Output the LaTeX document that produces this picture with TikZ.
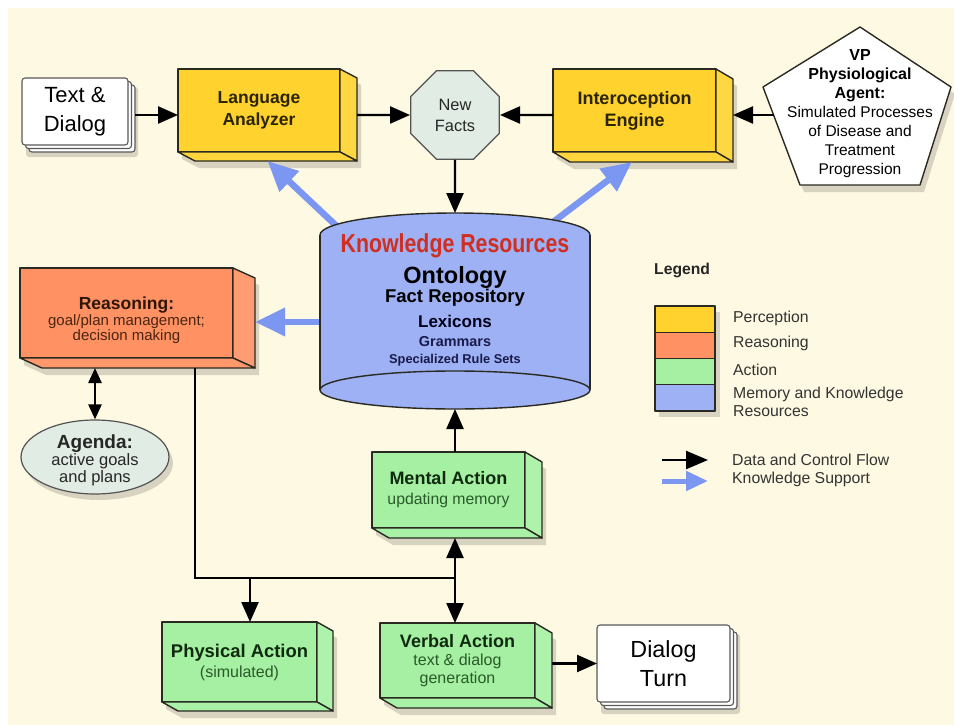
\documentclass[tikz,border=0pt]{standalone}
\usepackage{fontspec}
\usepackage{graphicx}
\setmainfont{Liberation Sans}
\usetikzlibrary{calc,arrows.meta,shapes.geometric}
\definecolor{bgcream}{HTML}{FEF9E2}
\definecolor{percY}{HTML}{FFD22E}
\definecolor{reasO}{HTML}{FF9162}
\definecolor{actG}{HTML}{A5F0A2}
\definecolor{memB}{HTML}{9DB1F4}
\definecolor{paleG}{HTML}{E1ECE4}
\definecolor{suppB}{HTML}{7C97F2}
\definecolor{krRed}{HTML}{CF2E20}
\definecolor{edgeC}{HTML}{2A2A22}
\definecolor{yTxt}{HTML}{2B2400}
\definecolor{oTxt}{HTML}{2E1608}
\definecolor{oSub}{HTML}{4A2510}
\definecolor{gTxt}{HTML}{0F2A0F}
\definecolor{gSub}{HTML}{2A5A2A}
\definecolor{navyTxt}{HTML}{1A1A4A}
\definecolor{lgTxt}{HTML}{333333}
\newcommand\fs[2]{\fontsize{#1}{#2}\selectfont}
\tikzset{
 outl/.style={draw=edgeC, line width=1.4pt, line join=round},
 tdface/.style={outl, rectangle, inner sep=0pt, outer sep=0pt},
 shad/.style={fill=black, opacity=0.15},
 stkface/.style={draw=gray!70!black, line width=1.1pt, fill=white, rounded corners=3pt, inner sep=0pt, outer sep=0pt},
 flow/.style={draw=black, line width=2.4pt, -{Triangle[length=20pt,width=17pt]}},
 flowtwo/.style={draw=black, line width=2.4pt, {Triangle[length=20pt,width=17pt]}-{Triangle[length=20pt,width=17pt]}},
 flowsm/.style={draw=black, line width=2.4pt, {Triangle[length=15pt,width=13pt]}-{Triangle[length=15pt,width=13pt]}},
 conn/.style={draw=black, line width=2.4pt},
 supp/.style={draw=suppB, line width=6.5pt, -{Triangle[length=30pt,width=27pt]}},
 lgflow/.style={draw=black, line width=2.4pt, -{Triangle[length=22pt,width=18pt]}},
 lgsupp/.style={draw=suppB, line width=5pt, -{Triangle[length=22pt,width=19pt]}},
 lbl/.style={align=center, inner sep=0pt},
 lgsw/.style={outl, rectangle, minimum width=60pt, minimum height=26.25pt, inner sep=0pt, outer sep=0pt},
 lglbl/.style={anchor=west, inner sep=0pt, text=lgTxt, font=\fs{15.8}{18}, align=left},
}
% 3D extruded box: name, x1, y1, x2, y2, dx, dy, colour
\newcommand\tdbox[8]{%
  \fill[shad] (#2+4,#3+7) -- (#4+4,#3+7) -- (#4+#6+4,#3+#7+7) -- (#4+#6+4,#5+#7+7) -- (#2+#6+4,#5+#7+7) -- (#2+4,#5+7) -- cycle;
  \node[tdface, fill=#8, minimum width={#4-#2}, minimum height={#5-#3}] (#1) at ({(#2+#4)/2},{(#3+#5)/2}) {};
  \draw[outl, fill=#8!90!white] (#1.north east) -- ++(#6,#7) -- ($(#1.south east)+(#6,#7)$) -- (#1.south east) -- cycle;
  \draw[outl, fill=#8!94!white] (#1.south west) -- ++(#6,#7) -- ($(#1.south east)+(#6,#7)$) -- (#1.south east) -- cycle;
  \coordinate (#1R) at ($(#1.east)+(#6,#7)$);
  \coordinate (#1B) at ($(#1.south)+({#6/2},#7)$);
}
% stacked white sheets: name, x1, y1, x2, y2
\newcommand\stackbox[5]{%
  \fill[shad, rounded corners=3pt] (#2+4,#3+9) rectangle (#4+10,#5+12);
  \node[stkface, minimum width={#4-#2}, minimum height={#5-#3}] (#1b2) at ({(#2+#4)/2+7},{(#3+#5)/2+7}) {};
  \node[stkface, minimum width={#4-#2}, minimum height={#5-#3}] (#1b1) at ({(#2+#4)/2+3.5},{(#3+#5)/2+3.5}) {};
  \node[stkface, minimum width={#4-#2}, minimum height={#5-#3}] (#1) at ({(#2+#4)/2},{(#3+#5)/2}) {};
}
\begin{document}
\begin{tikzpicture}[x=1pt,y=-1pt]
\useasboundingbox (0,0) rectangle (954,725);
\fill[white] (0,0) rectangle (954,725);
\fill[bgcream] (8,8) rectangle (954,725);

% junction coordinates
\coordinate (j1) at (195,578);
\coordinate (j2) at (455,578);
\coordinate (j3) at (250,578);
% cylinder coordinates
\coordinate (krT) at (455,213);
\coordinate (krB) at (455,409);
\coordinate (krL) at (330,322);
\coordinate (krUL) at (345,234);
\coordinate (krUR) at (540,232);

% ---------- boxes ----------
\tdbox{la}{178}{69}{340}{152}{17}{9}{percY}
\node[lbl, text=yTxt, font=\fs{17.5}{22}\bfseries] (lat) at (la.center) {Language\\Analyzer};
\tdbox{ie}{553}{69}{716}{152}{17}{10}{percY}
\node[lbl, text=yTxt, font=\fs{18}{22}\bfseries] (iet) at (ie.center) {Interoception\\Engine};
\tdbox{rs}{20}{268}{233}{358}{22}{10}{reasO}
\node[lbl, text=oSub, font=\fs{15}{15}] (rst) at ($(rs.center)+(0,7)$) {{\color{oTxt}\fs{17.5}{18}\bfseries Reasoning:}\\[1pt]goal/plan management;\\decision making};
\tdbox{ma}{372}{452}{525}{528}{17}{10}{actG}
\node[lbl, text=gSub, font=\fs{15.8}{20}] (mat) at (ma.center) {{\color{gTxt}\fs{18}{20}\bfseries Mental Action}\\updating memory};
\tdbox{pa}{162}{622}{317}{702}{16}{9}{actG}
\node[lbl, text=gSub, font=\fs{16}{20}] (pat) at (pa.center) {{\color{gTxt}\fs{18.4}{20}\bfseries Physical Action}\\(simulated)};
\tdbox{va}{380}{623}{535}{698}{17}{10}{actG}
\node[lbl, text=gSub, font=\fs{16}{18}] (vat) at (va.center) {{\color{gTxt}\fs{18}{20}\bfseries Verbal Action}\\text \& dialog\\generation};

\stackbox{td}{22}{78}{128}{145}
\node[lbl, font=\fs{22}{29}] (tdt) at (td.center) {Text \&\\Dialog};
\stackbox{dt}{597}{625}{730}{702}
\node[lbl, font=\fs{23.3}{29}] (dtt) at (dt.center) {Dialog\\Turn};

% New Facts octagon
\node[regular polygon, regular polygon sides=8, minimum size=96pt, inner sep=0pt,
      draw=gray!65!black, line width=1.3pt, fill=paleG, align=center,
      font=\fs{16.4}{21}, text=black!85] (nf) at (455,115) {New\\Facts};

% VP pentagon
\coordinate (vpA) at (860,27);
\coordinate (vpB) at (951,87);
\coordinate (vpC) at (920,185);
\coordinate (vpD) at (800,185);
\coordinate (vpE) at (763,87);
\coordinate (vpin) at (773.6,115);
\fill[shad] ($(vpA)+(4,7)$) -- ($(vpB)+(4,7)$) -- ($(vpC)+(4,7)$) -- ($(vpD)+(4,7)$) -- ($(vpE)+(4,7)$) -- cycle;
\draw[draw=edgeC, line width=1.4pt, fill=white, line join=round] (vpA) -- (vpB) -- (vpC) -- (vpD) -- (vpE) -- cycle;
\node[lbl, font=\fs{15.5}{19}] (vp) at (860,114) {\textbf{\fs{16}{19}VP}\\\textbf{\fs{16}{19}Physiological}\\\textbf{\fs{16}{19}Agent:}\\Simulated Processes\\of Disease and\\Treatment\\Progression};

% Agenda ellipse
\fill[shad] (99,463) ellipse [x radius=74, y radius=37];
\node[ellipse, draw=gray!65!black, line width=1.2pt, fill=paleG, minimum width=148pt, minimum height=74pt, inner sep=0pt] (ag) at (95,457) {};
\node[lbl, font=\fs{16.5}{17}, text=black!85] (agt) at (95,460) {{\fs{19}{20}\bfseries Agenda:}\\active goals\\and plans};

% ---------- knowledge support arrows (behind cylinder) ----------
\draw[supp] (krUL) -- (laB);
\draw[supp] (krUR) -- ($(ieB)+(-11,0)$);
\draw[supp] (krL) -- (rsR |- krL);

% ---------- cylinder ----------
\fill[memB] (320,235) rectangle (590,390);
\fill[memB] (455,235) ellipse [x radius=135, y radius=22];
\fill[memB] (455,390) ellipse [x radius=135, y radius=19];
\draw[outl] (320,235) -- (320,390);
\draw[outl] (590,235) -- (590,390);
\draw[outl] (455,390) ellipse [x radius=135, y radius=19];
\begin{scope}
  \clip (300,195) rectangle (610,235);
  \draw[outl] (455,235) ellipse [x radius=135, y radius=22];
\end{scope}
\node[lbl, text=krRed] (kr1) at (455,246) {\scalebox{0.82}[1]{\fs{26}{28}\bfseries Knowledge Resources}};
\node[lbl, font=\fs{23.5}{25}\bfseries] (kr2) at (455,277) {Ontology};
\node[lbl, font=\fs{18.5}{20}\bfseries] (kr3) at (455,298) {Fact Repository};
\node[lbl, font=\fs{17}{19}\bfseries, text=black!90!blue] (kr4) at (455,321) {Lexicons};
\node[lbl, font=\fs{14.4}{16}\bfseries, text=navyTxt] (kr5) at (455,342) {Grammars};
\node[lbl, font=\fs{12.8}{14}\bfseries, text=navyTxt] (kr6) at (455,360) {Specialized Rule Sets};

% ---------- data and control flow ----------
\draw[flow] (tdb2.east |- nf) -- (la.west |- nf);
\draw[flow] (laR |- nf) -- (nf.west);
\draw[flow] (ie.west |- nf) -- (nf.east);
\draw[flow] (vpin) -- (ieR |- vpin);
\draw[flow] (nf.south) -- (krT);
\draw[flow] (krB |- ma.north) -- (krB);
\draw[flowtwo] (j2 |- maB) -- (j2 |- va.north);
\draw[conn] ($(rs.south -| j1)+(0,10)$) -- (j1) -- (j2);
\draw[flow] (j3) -- (j3 |- pa.north);
\draw[flowsm] (ag.north |- rsB) -- (ag.north);
\draw[flow] (vaR |- dt) -- (dt.west);

% ---------- legend ----------
\node[anchor=west, inner sep=0pt, font=\fs{15.7}{18}\bfseries, text=black!85] (lgt) at (654,270) {Legend};
\fill[shad] (659,312) rectangle (720,417);
\node[lgsw, fill=percY] (lg1) at (685,319.1) {};
\node[lgsw, fill=reasO] (lg2) at (685,345.4) {};
\node[lgsw, fill=actG] (lg3) at (685,371.6) {};
\node[lgsw, fill=memB] (lg4) at (685,397.9) {};
\node[lglbl] (lgl1) at (733,318) {Perception};
\node[lglbl] (lgl2) at (733,343) {Reasoning};
\node[lglbl] (lgl3) at (733,370) {Action};
\node[lglbl] (lgl4) at (733,402) {Memory and Knowledge\\Resources};
\coordinate (lga1) at (662,460);
\coordinate (lga2) at (708,460);
\coordinate (lgb1) at (662,481);
\coordinate (lgb2) at (708,481);
\draw[lgflow] (lga1) -- (lga2);
\draw[lgsupp] (lgb1) -- (lgb2);
\node[lglbl] (lgl5) at (732,460) {Data and Control Flow};
\node[lglbl] (lgl6) at (732,479) {Knowledge Support};
\end{tikzpicture}
\end{document}
